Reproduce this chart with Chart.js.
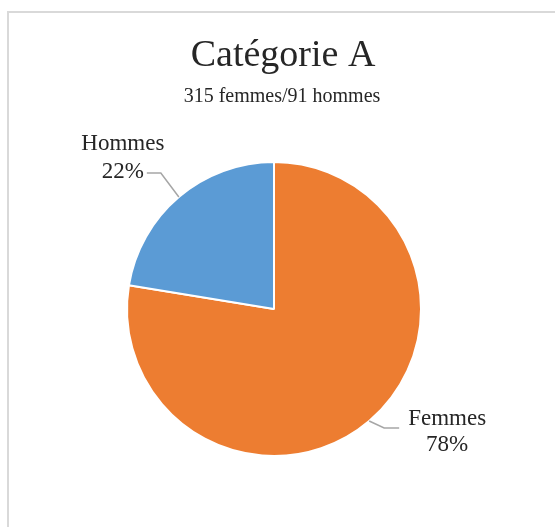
<!DOCTYPE html>
<html>
<head>
<meta charset="utf-8">
<script src="https://cdn.jsdelivr.net/npm/chart.js@4.4.0/dist/chart.umd.min.js"></script>
<style>
  body { margin: 0; background: #fff; }
</style>
</head>
<body>
<canvas id="myChart" width="555" height="527"></canvas>
<script>
const categories = ['Femmes', 'Hommes'];
const counts = [315, 91];
const colors = ['#ED7D31', '#5B9BD5'];
const chartTitle = 'Catégorie A';
const chartSubtitle = '315 femmes/91 hommes';

const textColor = '#262626';
const serif = '"Liberation Serif", "DejaVu Serif", serif';

// leader line / label placement per side (relative to the slice edge)
const leaders = {
  left:  { elbow: [-18, -24], run: -14, textX: -24, nameY: -29, pctY: -1 },
  right: { elbow: [15, 7], run: 15, textX: 48, nameY: -9, pctY: 17 }
};

const frame = {
  id: 'frame',
  beforeDraw(chart) {
    const c = chart.ctx;
    c.save();
    c.fillStyle = '#fff';
    c.fillRect(0, 0, chart.width, chart.height);
    c.strokeStyle = '#d9d9d9';
    c.lineWidth = 2;
    c.beginPath();
    c.moveTo(8, chart.height);
    c.lineTo(8, 12);
    c.lineTo(chart.width, 12);
    c.stroke();

    c.fillStyle = textColor;
    c.textAlign = 'center';
    c.textBaseline = 'middle';
    c.font = '38px ' + serif;
    c.fillText(chartTitle, 283, 56);
    c.font = '20px ' + serif;
    c.fillText(chartSubtitle, 282, 97);
    c.restore();
  }
};

const sliceLabels = {
  id: 'sliceLabels',
  afterDatasetsDraw(chart) {
    const c = chart.ctx;
    const arcs = chart.getDatasetMeta(0).data;
    const total = counts.reduce((a, b) => a + b, 0);
    c.save();
    arcs.forEach((arc, i) => {
      const p = arc.getProps(['x', 'y', 'startAngle', 'endAngle', 'outerRadius']);
      const mid = (p.startAngle + p.endAngle) / 2;
      const ex = p.x + Math.cos(mid) * p.outerRadius;
      const ey = p.y + Math.sin(mid) * p.outerRadius;
      const side = Math.cos(mid) < 0 ? leaders.left : leaders.right;
      const bx = ex + side.elbow[0], by = ey + side.elbow[1];
      const endX = bx + side.run;

      c.strokeStyle = '#a6a6a6';
      c.lineWidth = 1.5;
      c.beginPath();
      c.moveTo(ex, ey);
      c.lineTo(bx, by);
      c.lineTo(endX, by);
      c.stroke();

      const pct = Math.round(counts[i] / total * 100) + '%';
      c.fillStyle = textColor;
      c.textAlign = 'center';
      c.textBaseline = 'middle';
      c.font = '23px ' + serif;
      c.fillText(categories[i], endX + side.textX, by + side.nameY);
      c.fillText(pct, endX + side.textX, by + side.pctY);
    });
    c.restore();
  }
};

var ctx = document.getElementById('myChart');
var myChart = new Chart(ctx, {
  type: 'pie',
  data: {
    labels: categories,
    datasets: [{
      data: counts,
      backgroundColor: colors,
      borderColor: '#ffffff',
      borderWidth: 2
    }]
  },
  options: {
    responsive: false,
    animation: false,
    layout: {
      padding: { left: 126, right: 133, top: 161, bottom: 70 }
    },
    plugins: {
      legend: { display: false },
      tooltip: { enabled: false }
    }
  },
  plugins: [frame, sliceLabels]
});
</script>
</body>
</html>
